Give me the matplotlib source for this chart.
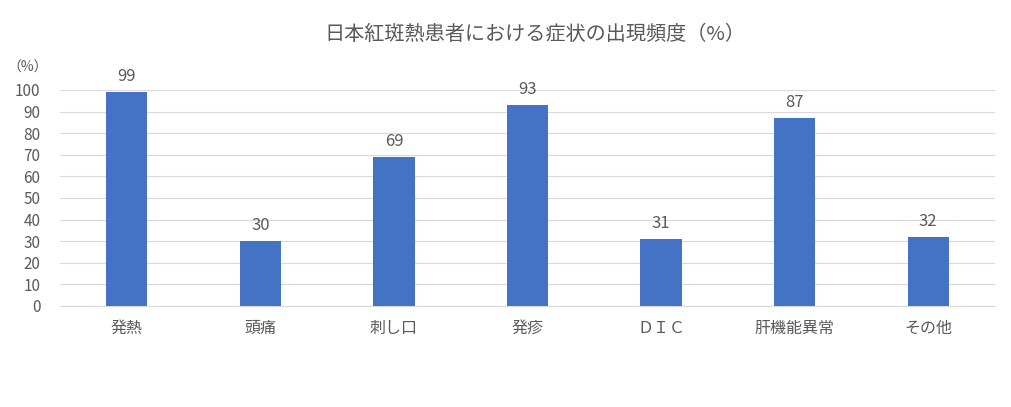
import matplotlib
matplotlib.use("Agg")
import matplotlib.pyplot as plt

categories = ["発熱", "頭痛", "刺し口", "発疹", "ＤＩＣ", "肝機能異常", "その他"]
values = [99, 30, 69, 93, 31, 87, 32]
yticks = list(range(0, 101, 10))
title = "日本紅斑熱患者における症状の出現頻度（%）"

plt.rcParams['font.family'] = ['Noto Sans CJK JP', 'DejaVu Sans']
text_color = "#595959"

fig = plt.figure(figsize=(10.11, 4.07), dpi=100)
ax = fig.add_axes([60/1011, 1-306/407, (995-60)/1011, (306-90)/407])
x = list(range(len(categories)))
ax.bar(x, values, width=0.31, color="#4472C4", zorder=3)
for xi, v in zip(x, values):
    ax.annotate(str(v), (xi, v), xytext=(0, 5), textcoords="offset points",
                ha="center", va="bottom", fontsize=12, color=text_color)
ax.set_xlim(-0.5, len(categories) - 0.5)
ax.set_ylim(0, 100)
ax.set_yticks(yticks)
ax.set_yticklabels([str(t) for t in yticks], fontsize=11, color=text_color)
ax.set_xticks(x)
ax.set_xticklabels(categories, fontsize=11.5, color=text_color)
ax.tick_params(axis='x', length=0, pad=10)
ax.tick_params(axis='y', length=0, pad=14)
ax.yaxis.grid(True, color="#D9D9D9", linewidth=0.8, zorder=0)
for s in ["top", "right", "left"]:
    ax.spines[s].set_visible(False)
ax.spines["bottom"].set_color("#D9D9D9")
ax.spines["bottom"].set_linewidth(0.8)
fig.text(28/1011, 1-68/407, "（%）", fontsize=10, color=text_color, ha="center", va="center")
fig.text(535/1011, 1-35/407, title, fontsize=14.5, color=text_color, ha="center", va="center")
fig.savefig("out.png", dpi=100)
